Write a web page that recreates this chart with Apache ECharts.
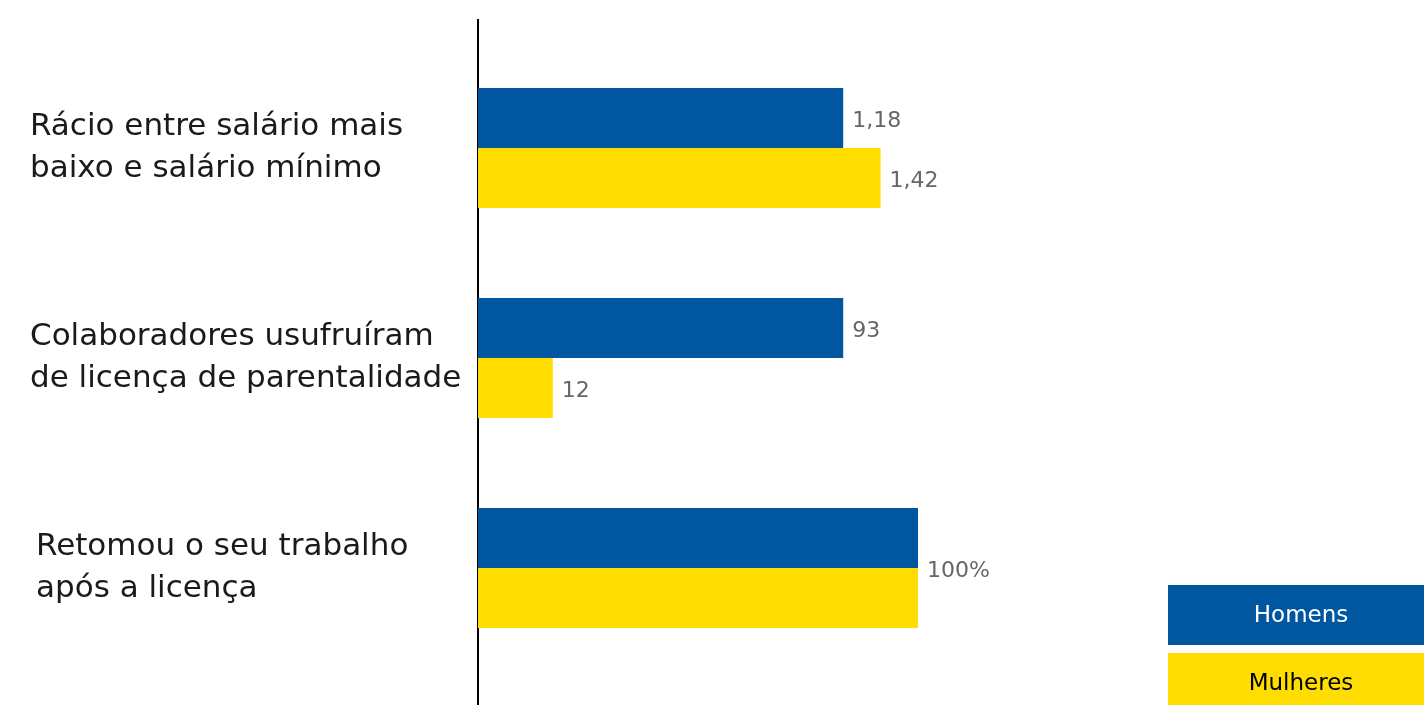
<!DOCTYPE html>
<html>
<head>
<meta charset="utf-8">
<script src="https://cdn.jsdelivr.net/npm/echarts@6/dist/echarts.min.js"></script>
<style>
  html, body { margin: 0; padding: 0; background: #ffffff; }
  #chart { width: 1424px; height: 705px; }
</style>
</head>
<body>
<div id="chart"></div>
<script>
// categorias (de cima para baixo)
const categories = [
  'Rácio entre salário mais\nbaixo e salário mínimo',
  'Colaboradores usufruíram\nde licença de parentalidade',
  'Retomou o seu trabalho\napós a licença'
]
// comprimento das barras (escala relativa, 100 = barra mais longa)
const homensLen = [83, 83, 100]
const mulheresLen = [91.5, 17, 100]
// rótulos mostrados junto às barras
const homensLabels = ['1,18', '93', '']
const mulheresLabels = ['1,42', '12', '100%']

const blue = '#0057A0'
const yellow = '#FFDD00'
const font = 'DejaVu Sans'

const myChart = echarts.init(document.getElementById('chart'))

const makeData = (vals, labels, lastUp) => vals.map((v, i) => {
  const item = { value: v, label: { formatter: labels[i] } }
  if (lastUp && i === vals.length - 1) item.label.offset = [0, -27]
  return item
})

const valueLabel = {
  show: true,
  position: 'right',
  distance: 9,
  offset: [0, 3],
  color: '#666666',
  fontSize: 22,
  fontFamily: font
}

const catLabel = {
  align: 'left',
  color: '#1a1a1a',
  fontSize: 31,
  lineHeight: 42,
  fontFamily: font
}

const options = {
  animation: false,
  grid: { left: 478, top: 43, width: 440, height: 630, containLabel: false, outerBoundsMode: 'none' },
  xAxis: {
    type: 'value',
    min: 0,
    max: 100,
    show: false
  },
  yAxis: {
    type: 'category',
    inverse: true,
    data: categories.map((c, i) => i === 2
      ? { value: c, textStyle: Object.assign({}, catLabel, { padding: [0, 0, 0, 6] }) }
      : c),
    axisLine: { show: false },
    axisTick: { show: false },
    axisLabel: Object.assign({ margin: 448 }, catLabel)
  },
  series: [
    {
      name: 'Homens',
      type: 'bar',
      barWidth: 60,
      barGap: '0%',
      itemStyle: { color: blue },
      label: valueLabel,
      data: makeData(homensLen, homensLabels, false)
    },
    {
      name: 'Mulheres',
      type: 'bar',
      barWidth: 60,
      barGap: '0%',
      itemStyle: { color: yellow },
      label: valueLabel,
      data: makeData(mulheresLen, mulheresLabels, true)
    }
  ],
  graphic: [
    // eixo vertical
    { type: 'line', shape: { x1: 478, y1: 19, x2: 478, y2: 705 }, style: { stroke: '#000', lineWidth: 2 } },
    // legenda
    { type: 'rect', shape: { x: 1168, y: 585, width: 256, height: 60 }, style: { fill: blue } },
    { type: 'text', x: 1301, y: 616, style: { text: 'Homens', fill: '#fff', font: '23px "DejaVu Sans"', align: 'center', verticalAlign: 'middle' } },
    { type: 'rect', shape: { x: 1168, y: 653, width: 256, height: 52 }, style: { fill: yellow } },
    { type: 'text', x: 1301, y: 684, style: { text: 'Mulheres', fill: '#000', font: '23px "DejaVu Sans"', align: 'center', verticalAlign: 'middle' } }
  ]
}
myChart.setOption(options)
</script>
</body>
</html>
